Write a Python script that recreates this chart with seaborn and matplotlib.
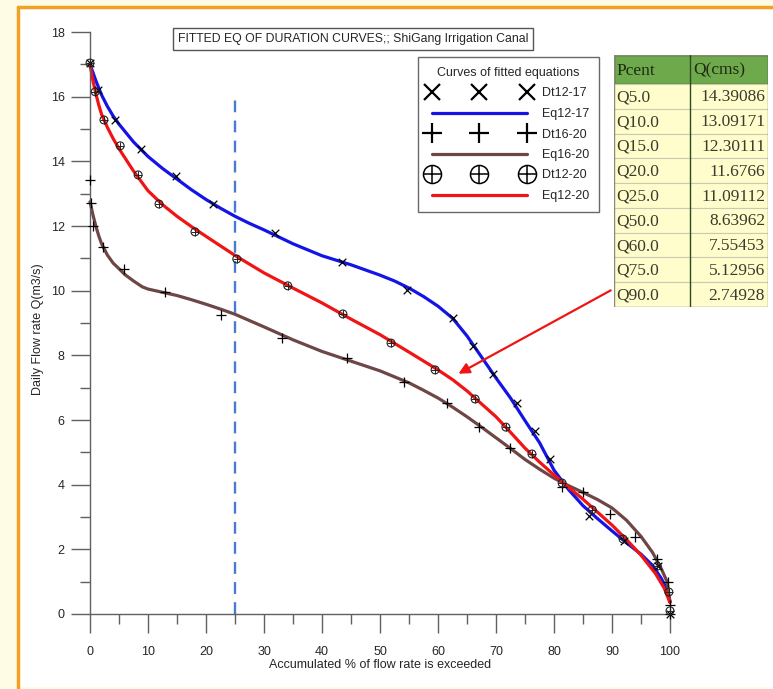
import pandas as pd
import seaborn as sns
import matplotlib.pyplot as plt
from matplotlib.lines import Line2D
from matplotlib.patches import Rectangle
from matplotlib.ticker import MultipleLocator

dt1217_x = [0, 1.4, 4.3, 8.8, 14.8, 21.2, 31.9, 43.4, 54.7, 62.6, 66.0, 69.4, 73.6, 76.8, 79.3, 86.0, 92.1, 97.9, 100]
dt1217_y = [17.04, 16.2, 15.28, 14.38, 13.55, 12.68, 11.78, 10.89, 10.02, 9.17, 8.29, 7.42, 6.54, 5.66, 4.78, 3.03, 2.26, 1.48, 0.0]

dt1620_x = [0, 0.1, 0.5, 2.2, 5.9, 13.0, 22.6, 33.1, 44.3, 54.2, 61.5, 67.1, 72.4, 81.3, 85.0, 89.7, 93.9, 97.7, 99.6, 100, 100]
dt1620_y = [13.42, 12.71, 12.0, 11.34, 10.66, 9.95, 9.25, 8.55, 7.91, 7.17, 6.52, 5.79, 5.12, 3.94, 3.78, 3.09, 2.39, 1.69, 1.0, 0.28, 0.0]

dt1220_x = [0, 0.9, 2.4, 5.2, 8.3, 11.9, 18.1, 25.3, 34.1, 43.6, 51.9, 59.5, 66.4, 71.7, 76.2, 81.4, 86.6, 91.9, 97.8, 99.8, 100]
dt1220_y = [17.04, 16.15, 15.28, 14.48, 13.58, 12.68, 11.82, 10.98, 10.15, 9.28, 8.38, 7.55, 6.65, 5.78, 4.95, 4.05, 3.22, 2.32, 1.48, 0.68, 0.1]

# fitted curves
eq1217_x = [0, 0.5, 1, 2, 3, 4, 5, 7.5, 10, 12.5, 15, 17.5, 20, 22.5, 25, 27.5, 30, 35, 40, 45, 50, 52.5, 55, 57.5,
            60, 62.5, 65, 67.5, 70, 72.5, 75, 77.5, 80, 82.5, 85, 87.5, 90, 92.5, 95, 97, 98.5, 99.5, 100]
eq1217_y = [17.0, 16.75, 16.5, 16.05, 15.7, 15.4, 15.15, 14.6, 14.15, 13.78, 13.45, 13.12, 12.82, 12.55, 12.3, 12.08,
            11.88, 11.45, 11.08, 10.8, 10.48, 10.3, 10.08, 9.82, 9.52, 9.15, 8.6, 7.95, 7.3, 6.68, 5.98, 5.3, 4.45,
            3.85, 3.35, 2.95, 2.57, 2.2, 1.85, 1.5, 1.1, 0.75, 0.38]

eq1620_x = [0, 0.5, 1, 1.5, 2, 3, 4, 5, 6, 7.5, 9, 10, 12.5, 15, 17.5, 20, 22.5, 25, 30, 35, 40, 45, 50, 55, 57.5,
            60, 62.5, 65, 67.5, 70, 72.5, 75, 77.5, 80, 82.5, 85, 87.5, 90, 92.5, 95, 97, 98.5, 99.5, 100]
eq1620_y = [12.75, 12.35, 12.0, 11.7, 11.45, 11.1, 10.85, 10.68, 10.5, 10.3, 10.12, 10.05, 9.95, 9.85, 9.72, 9.58,
            9.43, 9.27, 8.88, 8.48, 8.12, 7.82, 7.52, 7.15, 6.92, 6.68, 6.4, 6.1, 5.78, 5.45, 5.12, 4.78, 4.48, 4.2,
            3.97, 3.76, 3.54, 3.28, 2.9, 2.4, 1.9, 1.4, 1.0, 0.38]

eq1220_x = [0, 0.5, 1, 1.5, 2, 3, 4, 5, 7.5, 10, 12.5, 15, 17.5, 20, 25, 30, 35, 40, 45, 50, 55, 60, 62.5, 65, 67.5,
            70, 72.5, 75, 77.5, 80, 82.5, 85, 87.5, 90, 92.5, 95, 97.5, 99, 100]
eq1220_y = [17.0, 16.5, 16.1, 15.75, 15.45, 15.05, 14.7, 14.39, 13.7, 13.09, 12.66, 12.30, 11.98, 11.68, 11.09, 10.55,
            10.08, 9.62, 9.12, 8.64, 8.1, 7.55, 7.25, 6.9, 6.5, 6.1, 5.62, 5.13, 4.7, 4.3, 3.92, 3.55, 3.15, 2.75,
            2.3, 1.82, 1.25, 0.8, 0.35]

# table beside the chart
pcent_labels = ['Q5.0', 'Q10.0', 'Q15.0', 'Q20.0', 'Q25.0', 'Q50.0', 'Q60.0', 'Q75.0', 'Q90.0']
q_cms = [14.39086, 13.09171, 12.30111, 11.6766, 11.09112, 8.63962, 7.55453, 5.12956, 2.74928]

blue = '#1414E6'
brown = '#6E4646'
red = '#F01414'

sns.set_style('ticks')
plt.rcParams['font.family'] = ['Liberation Sans', 'DejaVu Sans']

fig = plt.figure(figsize=(7.73, 6.89), dpi=100, facecolor='#FFFCE6')

# white panel with orange frame (left and top)
fig.patches.append(Rectangle((0.0233, 0.003), 1.0, 0.987, transform=fig.transFigure,
                             facecolor='white', edgecolor='none', zorder=-2))
fig.lines.append(Line2D([0.0233, 0.0233], [0.0, 0.99], transform=fig.transFigure, color='#F2A124', lw=2.5))
fig.lines.append(Line2D([0.0233, 1.0], [0.99, 0.99], transform=fig.transFigure, color='#F2A124', lw=2.5))

ax = fig.add_axes([90 / 773, 1 - 614 / 689, 580 / 773, 582 / 689])
ax.set_facecolor('none')

sns.lineplot(x=eq1217_x, y=eq1217_y, color=blue, lw=2.3, sort=False, ax=ax)
sns.lineplot(x=eq1620_x, y=eq1620_y, color=brown, lw=2.3, sort=False, ax=ax)
sns.lineplot(x=eq1220_x, y=eq1220_y, color=red, lw=2.3, sort=False, ax=ax)

sns.scatterplot(x=dt1217_x, y=dt1217_y, marker='x', color='k', s=30, linewidth=0.9, ax=ax, zorder=4)
sns.scatterplot(x=dt1620_x, y=dt1620_y, marker='+', color='k', s=45, linewidth=0.9, ax=ax, zorder=4)
# circle-plus markers: hollow circle with a plus on top
sns.scatterplot(x=dt1220_x, y=dt1220_y, marker='o', facecolor='none', edgecolor='#222222', s=32, linewidth=0.8,
                ax=ax, zorder=4)
sns.scatterplot(x=dt1220_x, y=dt1220_y, marker='+', color='#222222', s=26, linewidth=0.7, ax=ax, zorder=4)

for art in ax.collections + ax.lines:
    art.set_clip_on(False)

ax.vlines(25, 0, 16.1, colors='#4A7BD0', linestyles=(0, (5, 3.5)), lw=1.7)

ax.annotate('', xy=(63.1, 7.39), xytext=(90.2, 10.05),
            arrowprops=dict(arrowstyle='-|>', color=red, lw=1.6, mutation_scale=16),
            annotation_clip=False)

ax.set_xlim(0, 100)
ax.set_ylim(0, 18)
ax.xaxis.set_major_locator(MultipleLocator(10))
ax.xaxis.set_minor_locator(MultipleLocator(5))
ax.yaxis.set_major_locator(MultipleLocator(2))
ax.yaxis.set_minor_locator(MultipleLocator(1))
ax.tick_params(which='both', bottom=True, left=True, top=False, right=False)
ax.tick_params(which='major', direction='out', length=13.7, width=1, color='#606060', labelsize=9)
ax.tick_params(which='minor', direction='out', length=7, width=1, color='#606060')
ax.tick_params(axis='x', pad=9)
ax.tick_params(axis='y', pad=4.5)
for s in ['top', 'right']:
    ax.spines[s].set_visible(False)
for s in ['left', 'bottom']:
    ax.spines[s].set_color('#606060')
    ax.spines[s].set_linewidth(1)

ax.set_xlabel('Accumulated % of flow rate is exceeded', fontsize=9)
ax.set_ylabel('Daily Flow rate Q(m3/s)', fontsize=9)
ax.xaxis.set_label_coords(0.5, -0.078)
ax.yaxis.set_label_coords(-0.08, 0.49)

fig.text(178 / 773, 1 - 39 / 689, 'FITTED EQ OF DURATION CURVES;; ShiGang Irrigation Canal',
         fontsize=8.8, ha='left', va='center',
         bbox=dict(boxstyle='square,pad=0.4', fc='white', ec='#555555', lw=1))

oplus = (Line2D([], [], ls='None', marker='o', mfc='none', mec='k', ms=13, mew=1.1),
         Line2D([], [], ls='None', marker='+', color='k', ms=13, mew=1.1))
handles = [
    Line2D([], [], ls='None', marker='x', color='k', ms=12, mew=1.6),
    Line2D([], [], color=blue, lw=2.3),
    Line2D([], [], ls='None', marker='+', color='k', ms=15, mew=1.6),
    Line2D([], [], color=brown, lw=2.3),
    oplus,
    Line2D([], [], color=red, lw=2.3),
]
labels = ['Dt12-17', 'Eq12-17', 'Dt16-20', 'Eq16-20', 'Dt12-20', 'Eq12-20']
leg = fig.legend(handles, labels, loc='upper left', bbox_to_anchor=(418 / 773, 1 - 57 / 689),
                 borderaxespad=0, numpoints=3, handlelength=8.2, handletextpad=0.9,
                 title='Curves of fitted equations', fontsize=9, title_fontsize=9, frameon=True,
                 fancybox=False, edgecolor='#444444', borderpad=0.8, labelspacing=0.68)
leg.get_frame().set_linewidth(1)

# table
tab = fig.add_axes([614 / 773, 1 - 307 / 689, 154 / 773, 252 / 689])
tab.set_xlim(0, 154)
tab.set_ylim(252, 0)
tab.axis('off')
head_h = 29
row_h = (252 - head_h) / len(pcent_labels)
tab.add_patch(Rectangle((0, 0), 154, head_h, fc='#6EAA4C', ec='#2E4A22', lw=1))
for i, (lab, val) in enumerate(zip(pcent_labels, q_cms)):
    y0 = head_h + i * row_h
    tab.add_patch(Rectangle((0, y0), 154, row_h, fc='#FFFDCC', ec='#C9C9B4', lw=0.8))
    tab.text(2, y0 + row_h / 2 + 1, lab, family='Liberation Serif', fontsize=12.5,
             color='#3B3B2E', ha='left', va='center')
    tab.text(151, y0 + row_h / 2 + 1, str(val), family='Liberation Serif', fontsize=12.5,
             color='#3B3B2E', ha='right', va='center')
tab.plot([76, 76], [0, 252], color='#2E4A22', lw=1)
tab.add_patch(Rectangle((0, 0), 154, 252, fc='none', ec='#8A8A7A', lw=1))
tab.text(2, head_h / 2 + 1, 'Pcent', family='Liberation Serif', fontsize=12.5, color='#1F2A14', ha='left', va='center')
tab.text(79, head_h / 2 + 1, 'Q(cms)', family='Liberation Serif', fontsize=12.5, color='#1F2A14', ha='left', va='center')

fig.savefig('out.png', dpi=100, facecolor=fig.get_facecolor())
